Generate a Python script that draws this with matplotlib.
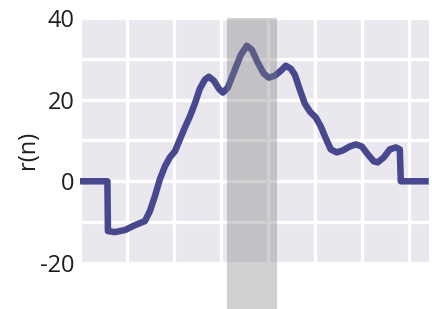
import matplotlib.pyplot as plt
import numpy as np

# values
n = [0, 5.85, 5.96, 7.45, 9.57, 11.28, 12.77, 13.83, 14.89, 15.96, 17.02,
     18.09, 19.15, 20.21, 21.28, 22.34, 23.40, 24.47, 25.53, 26.60, 27.45,
     28.51, 29.57, 30.43, 31.49, 32.98, 34.26, 35.53, 36.60, 37.87, 39.15,
     40.21, 41.49, 42.77, 43.83, 44.89, 45.74, 46.81, 47.87, 48.94, 50.21,
     51.28, 52.34, 53.40, 54.68, 55.96, 57.45, 58.72, 60.00, 61.28, 62.55,
     63.40, 64.68, 65.96, 67.23, 68.09, 68.30, 74.26]
r = [0, 0, -12.2, -12.44, -11.95, -10.98, -10.24, -9.76, -7.32, -3.66, 0.49,
     3.66, 5.85, 7.32, 10.24, 13.17, 15.85, 19.02, 22.68, 24.88, 25.61,
     24.63, 22.68, 21.71, 22.93, 27.32, 30.98, 33.17, 32.20, 29.02, 26.34,
     25.37, 25.85, 27.07, 28.29, 27.56, 26.10, 22.44, 19.02, 17.07, 15.61,
     13.41, 10.49, 7.80, 7.07, 7.56, 8.54, 9.02, 8.54, 6.59, 4.88,
     4.63, 5.85, 7.80, 8.29, 7.80, 0, 0]
span = (31.3, 41.9)
y_ticks = [-20, 0, 20, 40]

plt.rcParams['font.family'] = ['Open Sans', 'DejaVu Sans']

fig = plt.figure(figsize=(4.32, 3.09), dpi=100)
ax = fig.add_axes([0.185, 0.149, 0.808, 0.793])
ax.set_facecolor('#ebe7ee')

ax.plot(n, r, color='#48488f', linewidth=4.7, solid_joinstyle='round',
        solid_capstyle='butt', zorder=3)
ax.axvspan(span[0], span[1], ymin=-0.3, ymax=1, color='#808080', alpha=0.37,
           linewidth=0, clip_on=False, zorder=4)

ax.set_xlim(0, 74.3)
ax.set_ylim(-20, 40)
ax.set_xticks(range(0, 80, 10))
ax.set_xticklabels([])
ax.set_yticks(y_ticks)
ax.set_yticks(range(-20, 41, 10), minor=True)
ax.set_yticklabels([str(t) for t in y_ticks], fontsize=17)
ax.tick_params(axis='both', which='both', length=0, pad=4, colors='#1e1e1e')
ax.grid(True, which='both', color='white', linewidth=2.4)
ax.set_axisbelow(True)
for s in ax.spines.values():
    s.set_visible(False)

ax.set_ylabel('r(n)', fontsize=17, color='#1e1e1e')
ax.yaxis.set_label_coords(-0.115, 0.46)

fig.savefig('out.png', dpi=100)
